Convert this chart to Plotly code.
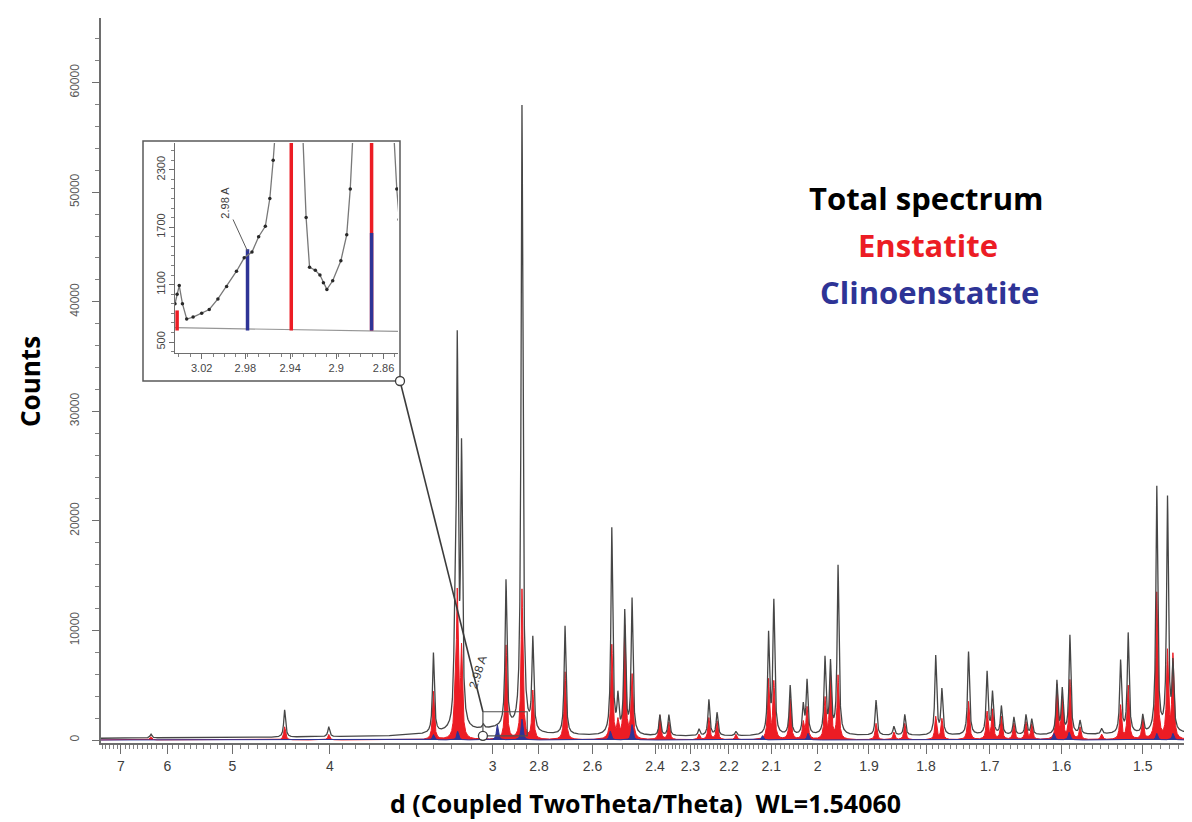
import numpy as np
import plotly.graph_objects as go

# ---------------- data ----------------
# main pattern: peak positions (d, Angstrom), total spectrum peak heights, enstatite heights
PEAK_D = [6.32, 4.41, 4.01, 3.30, 3.185, 3.172, 3.150, 3.043, 2.939, 2.870, 2.825, 2.699,
          2.535, 2.515, 2.493, 2.470, 2.386, 2.360, 2.277, 2.251, 2.230, 2.183,
          2.106, 2.094, 2.058, 2.030, 2.022, 1.985, 1.974, 1.959, 1.887, 1.855, 1.836,
          1.784, 1.774, 1.732, 1.704, 1.696, 1.683, 1.665, 1.648, 1.640,
          1.606, 1.599, 1.589, 1.576, 1.549, 1.526, 1.517, 1.500, 1.484, 1.472, 1.466]
TOTAL_H = [350, 2500, 900, 7300, 6500, 34200, 24600, 350, 13300, 57000, 8300, 9900,
           18800, 3200, 11100, 12300, 1900, 1900, 600, 3300, 2100, 400,
           9100, 12100, 4500, 2600, 4900, 6900, 6400, 15400, 3200, 800, 1900,
           7200, 4100, 7600, 5700, 3800, 2600, 1600, 1800, 1400,
           4800, 4000, 9000, 1200, 500, 6600, 9100, 1600, 22400, 21300, 6000]
ENST_H = [300, 1200, 500, 4400, 2500, 13000, 8000, 250, 8600, 13700, 4400, 6200,
          8600, 1500, 10300, 5800, 2200, 1600, 500, 2000, 1700, 500,
          5400, 5200, 3700, 1500, 2900, 3700, 5700, 5800, 1500, 700, 1500,
          2100, 1900, 3500, 2500, 2700, 2100, 1500, 1600, 1400,
          4900, 3700, 5400, 1100, 500, 3100, 4900, 1900, 13400, 7900, 7600]
CLINO_D = [3.30, 3.17, 2.978, 2.870, 2.54, 2.47, 2.12, 2.02, 1.61, 1.59, 1.484, 1.466]
CLINO_H = [500, 800, 1400, 1900, 800, 1400, 400, 600, 600, 700, 600, 600]
BG_D = [7.6, 6.0, 4.5, 3.6, 3.35, 3.1, 3.0, 2.95, 2.9, 2.8, 2.6, 2.4, 2.2, 2.0, 1.8, 1.6, 1.44]
BG_C = [150, 200, 250, 350, 500, 800, 1000, 1100, 900, 500, 400, 350, 350, 400, 400, 450, 600]

X_TICKS = [7, 6, 5, 4, 3, 2.8, 2.6, 2.4, 2.3, 2.2, 2.1, 2, 1.9, 1.8, 1.7, 1.6, 1.5]
Y_TICKS = [0, 10000, 20000, 30000, 40000, 50000, 60000]

# inset (zoom of 3.045 - 2.848 A)
INSET_D = [3.045, 3.043, 3.041, 3.038, 3.034, 3.028, 3.020, 3.013, 3.005, 2.997, 2.988,
           2.981, 2.974, 2.968, 2.962, 2.958, 2.955, 2.950, 2.935, 2.929, 2.926, 2.923,
           2.918, 2.914, 2.911, 2.908, 2.903, 2.896, 2.891, 2.888, 2.886, 2.880, 2.860,
           2.852, 2.849, 2.847]
INSET_C = [900, 1000, 1090, 900, 740, 760, 800, 840, 950, 1080, 1240,
           1380, 1440, 1600, 1710, 2000, 2400, 3200, 3200, 2700, 1800, 1280,
           1250, 1200, 1120, 1050, 1140, 1350, 1620, 2100, 2600, 3200, 3200,
           2800, 2100, 1780]
INSET_BASE_D = [3.045, 2.848]
INSET_BASE_C = [650, 610]
INSET_ENST_D = [3.043, 2.939, 2.870]
INSET_ENST_TOP = [830, 3000, 3000]
INSET_CLINO_D = [2.978, 2.870]
INSET_CLINO_TOP = [1470, 1640]
INSET_STICK_BOTTOM = 620
INSET_X_TICKS = [3.02, 2.98, 2.94, 2.9, 2.86]
INSET_Y_TICKS = [500, 1100, 1700, 2300]

# ---------------- layout geometry ----------------
W, H = 1192, 822
ML, MR, MT, MB = 93, 4, 10, 87
PW, PH = W - ML - MR, H - MT - MB


def fx(px):
    return (px - ML) / PW


def fy(py):
    return (H - MB - py) / PH


XR = [1 / 7.54, 1 / 1.441]
YR = [-274, 65900]

RED = "rgb(236,28,36)"
BLUE = "rgb(46,52,150)"
LINE = "rgb(70,70,70)"

# ---------------- profiles ----------------
q = np.arange(0.130, 0.697, 0.00003)
GAM = 0.00055


def profile(ds, hs):
    y = np.zeros_like(q)
    for d, h in zip(ds, hs):
        y += h / (1 + ((q - 1 / d) / GAM) ** 2)
    return y


bg = np.interp(q, 1 / np.array(BG_D), np.array(BG_C))
total = bg + profile(PEAK_D, TOTAL_H)
enst = profile(PEAK_D, ENST_H)
clino = profile(CLINO_D, CLINO_H)

fig = go.Figure()
fig.add_trace(go.Scatter(x=q, y=enst, mode="lines", line=dict(color=RED, width=1),
                         fill="tozeroy", fillcolor=RED, showlegend=False, hoverinfo="skip"))
fig.add_trace(go.Scatter(x=q, y=clino, mode="lines", line=dict(color=BLUE, width=1),
                         fill="tozeroy", fillcolor=BLUE, showlegend=False, hoverinfo="skip"))
fig.add_trace(go.Scatter(x=q, y=total, mode="lines", line=dict(color=LINE, width=1.3),
                         showlegend=False, hoverinfo="skip"))

# ---- inset traces ----
iq = 1 / np.array(INSET_D)
fig.add_trace(go.Scatter(x=1 / np.array(INSET_BASE_D), y=INSET_BASE_C, mode="lines",
                         line=dict(color="rgb(150,150,150)", width=1.2),
                         xaxis="x2", yaxis="y2", showlegend=False))


def sticks(ds, tops, bottom):
    xs, ys = [], []
    for d, t in zip(ds, tops):
        xs += [1 / d, 1 / d, None]
        ys += [bottom, t, None]
    return xs, ys


sx, sy = sticks(INSET_ENST_D, INSET_ENST_TOP, INSET_STICK_BOTTOM)
fig.add_trace(go.Scatter(x=sx, y=sy, mode="lines", line=dict(color=RED, width=3.5),
                         xaxis="x2", yaxis="y2", showlegend=False))
sx, sy = sticks(INSET_CLINO_D, INSET_CLINO_TOP, INSET_STICK_BOTTOM)
fig.add_trace(go.Scatter(x=sx, y=sy, mode="lines", line=dict(color=BLUE, width=3.5),
                         xaxis="x2", yaxis="y2", showlegend=False))
ic = np.array(INSET_C, dtype=float)
fig.add_trace(go.Scatter(x=iq, y=ic, mode="lines", line=dict(color="rgb(120,120,120)", width=1.3),
                         xaxis="x2", yaxis="y2", showlegend=False))
mk = ic < 2500
fig.add_trace(go.Scatter(x=iq[mk], y=ic[mk], mode="markers",
                         marker=dict(color="rgb(40,40,40)", size=3.5),
                         xaxis="x2", yaxis="y2", showlegend=False, cliponaxis=True))

# ---------------- axes ----------------
def minor_vals(majors):
    vals = []
    for lo, hi, step in [(3.0, 7.6, 0.1), (2.4, 3.0, 0.05), (1.44, 2.4, 0.01)]:
        n = int(round((hi - lo) / step))
        for i in range(n + 1):
            v = round(lo + i * step, 3)
            if v not in majors and 1.441 <= v <= 7.54:
                vals.append(1 / v)
    return sorted(set(vals))


fig.update_layout(
    width=W, height=H, margin=dict(l=ML, r=MR, t=MT, b=MB),
    paper_bgcolor="white", plot_bgcolor="white",
    xaxis=dict(range=XR, showgrid=False, zeroline=False, showline=True,
               linecolor="rgb(110,110,110)", linewidth=1.5,
               tickmode="array", tickvals=[1 / v for v in X_TICKS],
               ticktext=[f"{v:g}" for v in X_TICKS],
               ticks="outside", ticklen=9, tickwidth=1.3, tickcolor="rgb(110,110,110)",
               tickfont=dict(family="Liberation Sans", size=14, color="rgb(60,60,60)"),
               minor=dict(tickmode="array", tickvals=minor_vals(X_TICKS), ticks="outside",
                          ticklen=4, tickwidth=1, tickcolor="rgb(130,130,130)")),
    yaxis=dict(range=YR, showgrid=False, zeroline=False, showline=True,
               linecolor="rgb(110,110,110)", linewidth=1.5,
               tickmode="array", tickvals=Y_TICKS, ticktext=[str(v) for v in Y_TICKS],
               tickangle=-90, ticks="outside", ticklen=7, tickwidth=1.3,
               tickcolor="rgb(110,110,110)", ticklabelstandoff=8,
               tickfont=dict(family="Liberation Sans", size=12, color="rgb(90,90,90)"),
               minor=dict(dtick=2000, ticks="outside", ticklen=4, tickwidth=1,
                          tickcolor="rgb(130,130,130)")),
    xaxis2=dict(domain=[fx(167), fx(390)], anchor="y2", range=[1 / 3.045, 1 / 2.848],
                showgrid=False, zeroline=False, showline=True, linecolor="rgb(110,110,110)",
                linewidth=1.2, tickmode="array", tickvals=[1 / v for v in INSET_X_TICKS],
                ticktext=[f"{v:g}" for v in INSET_X_TICKS], ticks="outside", ticklen=5,
                tickcolor="rgb(110,110,110)",
                tickfont=dict(family="Liberation Sans", size=11, color="rgb(70,70,70)"),
                minor=dict(dtick=(1 / 2.86 - 1 / 3.02) / 16, tick0=1 / 3.02, ticks="outside",
                           ticklen=3, tickcolor="rgb(130,130,130)")),
    yaxis2=dict(domain=[fy(345), fy(135)], anchor="x2", range=[385, 2580],
                showgrid=False, zeroline=False, showline=True, linecolor="rgb(110,110,110)",
                linewidth=1.2, tickmode="array", tickvals=INSET_Y_TICKS,
                ticktext=[str(v) for v in INSET_Y_TICKS], tickangle=-90, ticks="outside",
                ticklen=5, tickcolor="rgb(110,110,110)",
                tickfont=dict(family="Liberation Sans", size=11, color="rgb(70,70,70)"),
                minor=dict(dtick=100, ticks="outside", ticklen=3, tickcolor="rgb(130,130,130)")),
)

# ---------------- shapes: inset frame, zoom box, connector ----------------
def dx(qv):
    return (qv - XR[0]) / (XR[1] - XR[0])


def dy(cv):
    return (cv - YR[0]) / (YR[1] - YR[0])


box_x0, box_x1 = dx(1 / 3.045), dx(1 / 2.848)
box_y0, box_y1 = dy(385), dy(2580)
shapes = [
    dict(type="rect", xref="paper", yref="paper", x0=fx(135), x1=fx(392), y0=fy(373), y1=fy(133),
         line=dict(color="rgb(90,90,90)", width=1.5), layer="below"),
    dict(type="rect", xref="paper", yref="paper", x0=box_x0, x1=box_x1, y0=box_y0, y1=box_y1,
         line=dict(color="rgb(80,80,80)", width=1.2)),
    dict(type="line", xref="paper", yref="paper", x0=fx(392), y0=fy(373), x1=box_x0, y1=box_y1,
         line=dict(color="rgb(60,60,60)", width=1.6)),
]
r = 4.5
for (cx, cy) in [(fx(392), fy(373)), (box_x0, box_y0)]:
    shapes.append(dict(type="circle", xref="paper", yref="paper",
                       x0=cx - r / PW, x1=cx + r / PW, y0=cy - r / PH, y1=cy + r / PH,
                       line=dict(color="rgb(60,60,60)", width=1.3), fillcolor="white"))
fig.update_layout(shapes=shapes)

# ---------------- annotations ----------------
TF = "Open Sans"


def txt(s, px, py, size, color, angle=0):
    return dict(text=s, xref="paper", yref="paper", x=fx(px), y=fy(py), xanchor="center",
                yanchor="middle", textangle=angle, showarrow=False,
                font=dict(family=TF, size=size, color=color, weight="bold"))


ann = [
    txt("Counts", 22, 374, 26, "black", -90),
    txt("d (Coupled TwoTheta/Theta)  WL=1.54060", 637, 795, 25, "black"),
    txt("Total spectrum", 918, 190, 31, "black"),
    txt("Enstatite", 920, 237, 31, RED),
    txt("Clinoenstatite", 921, 284, 31, BLUE),
    dict(text="2.98 A", xref="x2", yref="y2", x=1 / 2.978, y=1450, ax=-22, ay=-48,
         textangle=-90, showarrow=True, arrowhead=0, arrowwidth=1, arrowcolor="rgb(90,90,90)",
         font=dict(family="Liberation Sans", size=11, color="rgb(60,60,60)")),
    dict(text="2.98 A", xref="paper", yref="paper", x=fx(470), y=fy(664), textangle=-72,
         xanchor="center", yanchor="middle", showarrow=False,
         font=dict(family="Liberation Sans", size=12, color="rgb(60,60,60)")),
]
fig.update_layout(annotations=ann)

fig.write_html("out.html")
